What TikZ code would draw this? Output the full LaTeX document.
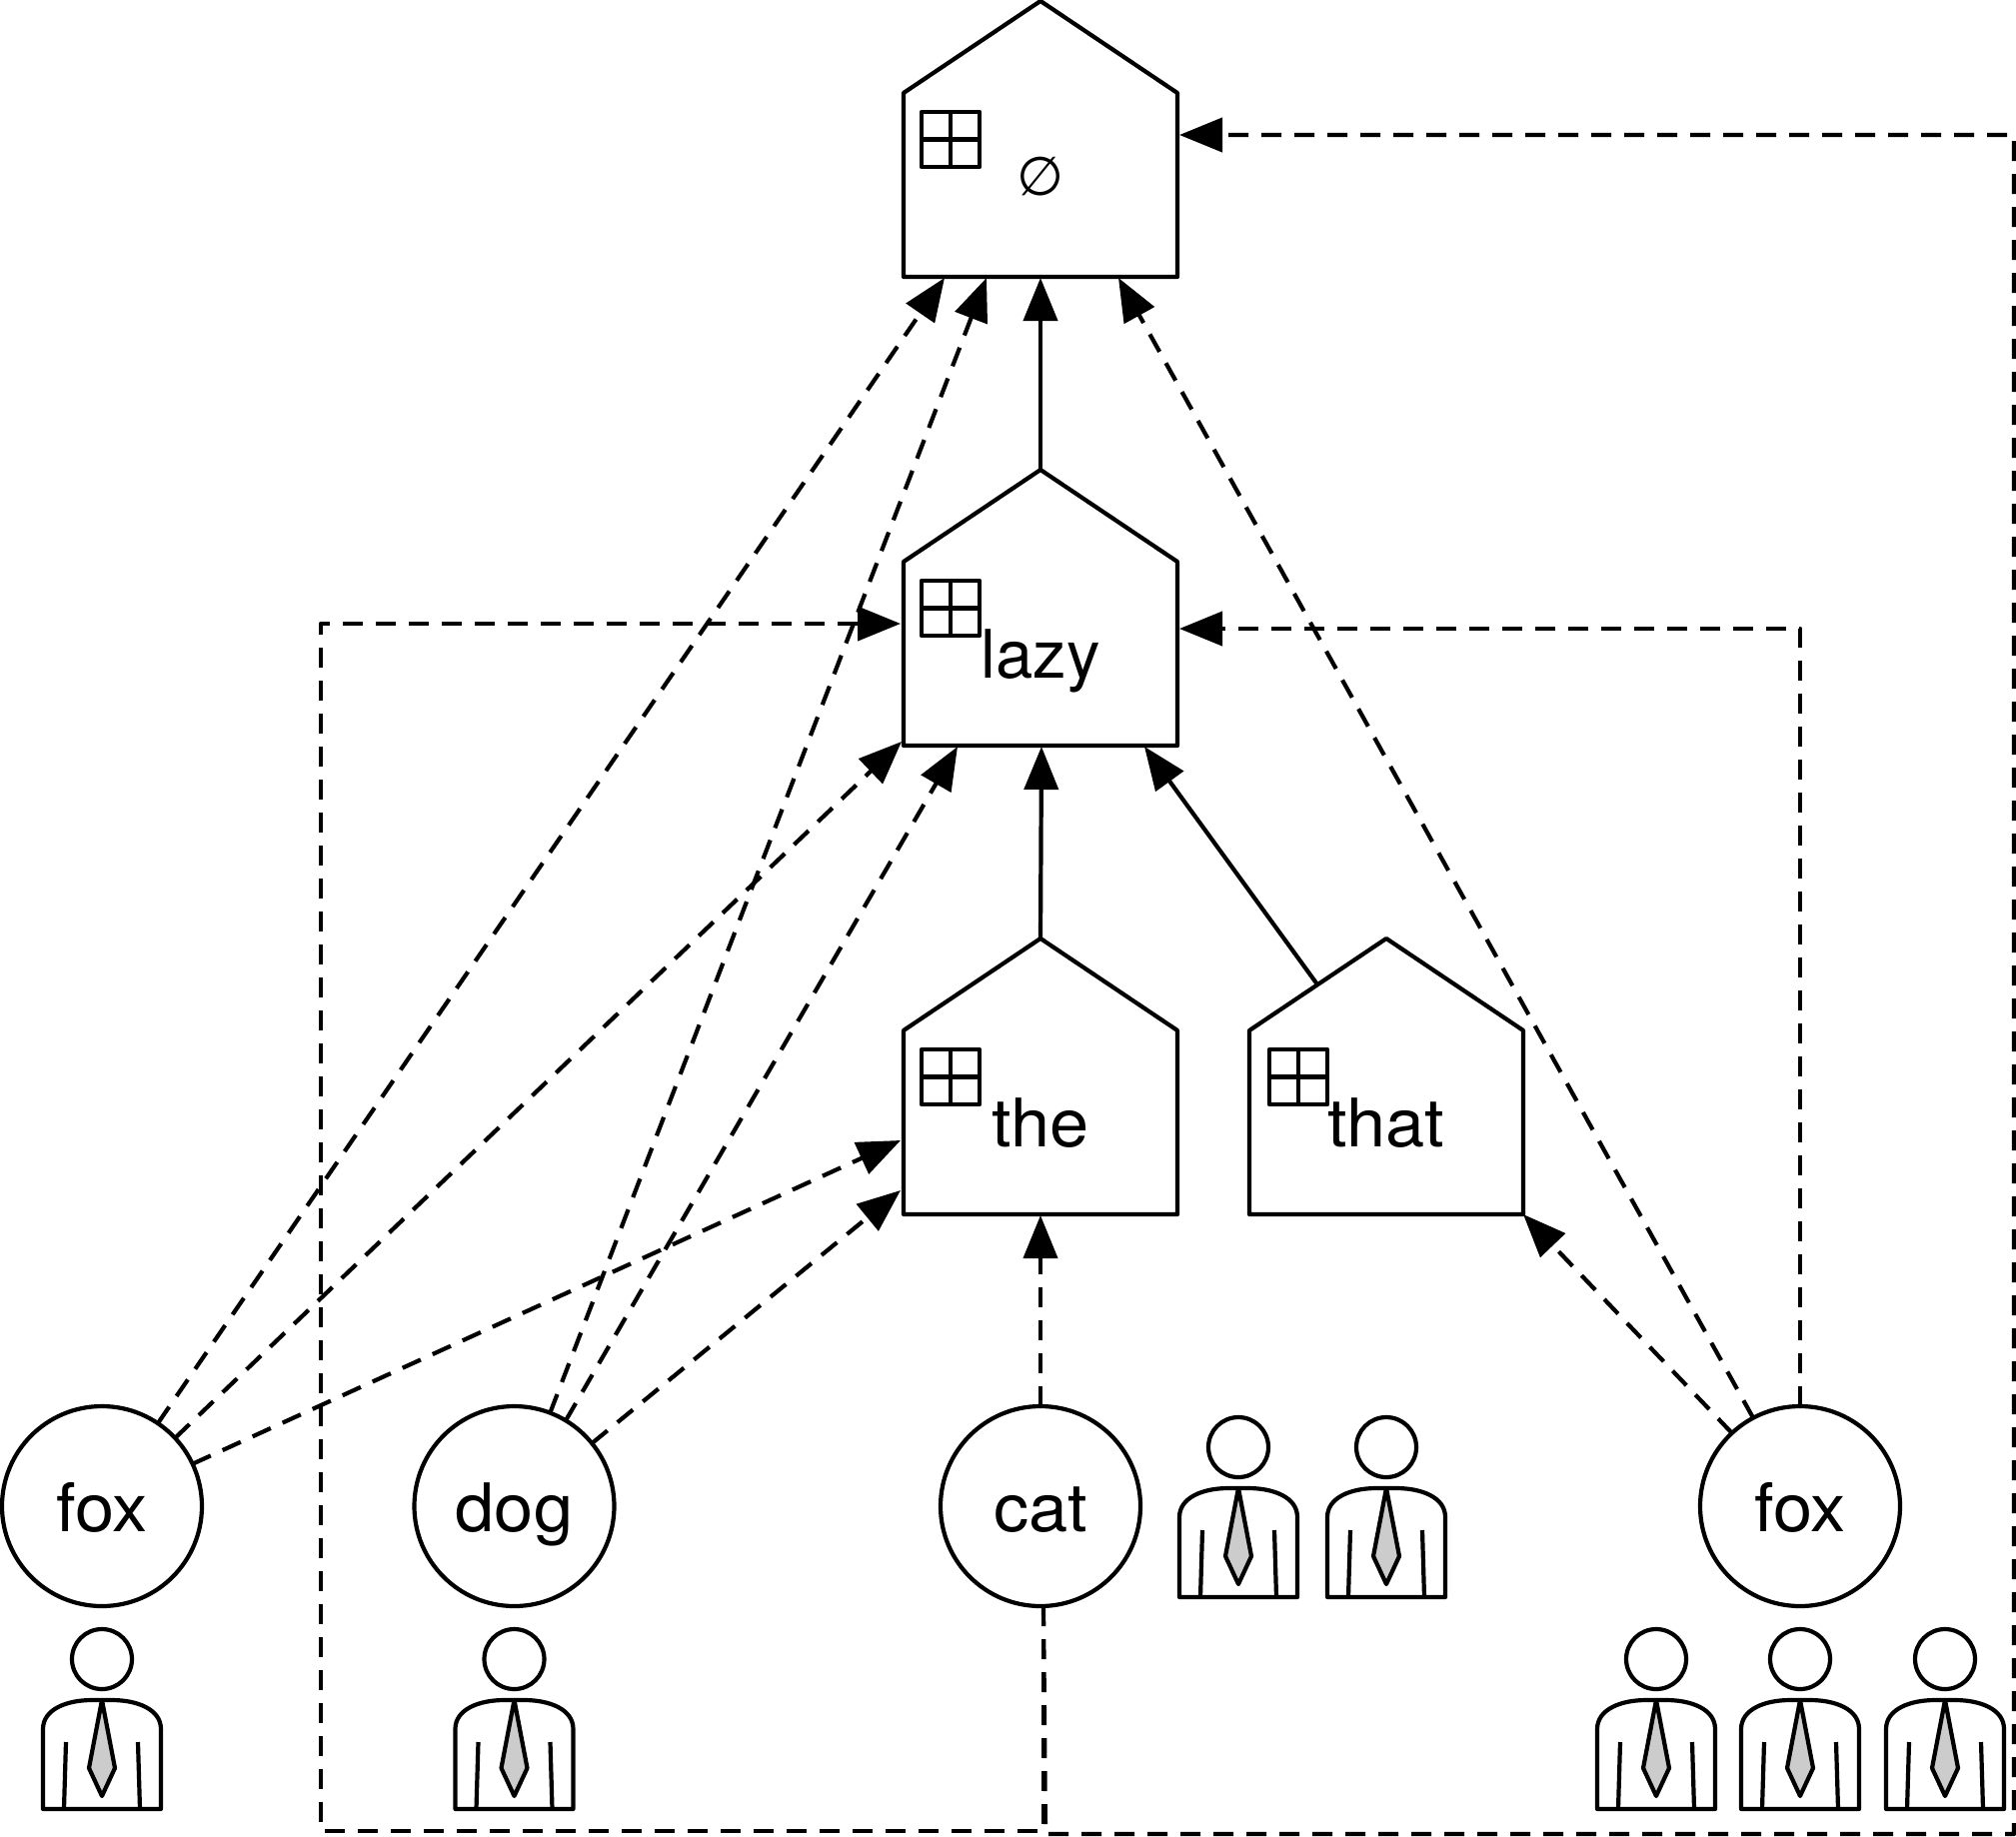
\documentclass[tikz,border=0pt]{standalone}
\usepackage{fontspec}
\setmainfont[FakeStretch=1.05]{TeX Gyre Heros}
\newfontfamily\plainfont{TeX Gyre Heros}
\newfontfamily\symfont{DejaVu Sans}
\usetikzlibrary{arrows.meta}
\tikzset{
  x=1pt,y=-1pt,
  every path/.style={line width=4.2pt,line join=round},
  tip/.style={-{Triangle[length=43pt,width=34pt]}},
  solidarrow/.style={draw,tip},
  dasharrow/.style={draw,tip,dash pattern=on 20pt off 13pt},
  housearea/.style={draw=none,rectangle,minimum width=274pt,minimum height=184pt,inner sep=0pt,outer sep=0pt},
  houselabel/.style={font=\fontsize{67}{70}\selectfont,inner sep=0pt,anchor=base},
  word/.style={draw,circle,minimum size=200pt,inner sep=0pt,outer sep=0pt,
     font=\fontsize{67}{70}\selectfont,text height=65pt,text depth=15pt},
  headshape/.style={draw,circle,minimum size=60pt,inner sep=0pt,outer sep=0pt},
}
\newcommand{\myhouse}[5]{% name, x, apex y, label, window x
  \begin{scope}[shift={(#2,#3)}]
    \draw (-137,92) -- (0,0) -- (137,92) -- (137,276) -- (-137,276) -- cycle;
    \draw (#5,111) rectangle ++(58,55);
    \draw (#5,138.5) -- ++(58,0);
    \draw ({#5+29},111) -- ++(0,55);
    \node[housearea] (#1) at (0,184) {};
    \coordinate (#1-apex) at (0,0);
    \coordinate (#1-roof) at (-69,46);
    \node[houselabel] (#1-label) at (0,208) {#4};
  \end{scope}}
\newcommand{\myperson}[3]{% name, x, head centre y
  \begin{scope}[shift={(#2,#3)}]
    \node[headshape] (#1) at (0,0) {};
    \draw (-59,150) -- (-59,70) .. controls (-59,50) and (-35,41) .. (-10,41) -- (10,41)
          .. controls (35,41) and (59,50) .. (59,70) -- (59,150) -- cycle;
    \draw[fill=black!20] (0,41) -- (-13,109) -- (0,137) -- (13,109) -- cycle;
    \draw (-36,83) -- (-38,150);
    \draw (36,83) -- (38,150);
  \end{scope}}
\begin{document}
\begin{tikzpicture}
\useasboundingbox (0,0) rectangle (2017,1837);
\myhouse{hA}{1041}{1}{}{-119}
\myhouse{hB}{1041}{470}{\plainfont lazy}{-119}
\myhouse{hC}{1041}{939}{the}{-119}
\myhouse{hD}{1387}{939}{that}{-117}
\node[inner sep=0pt,font=\symfont\fontsize{54}{58}\selectfont] (empty) at (1041,177) {∅};

\node[word] (fA) at (102,1507) {fox};
\node[word] (dg) at (514.5,1507) {dog};
\node[word] (ct) at (1041,1507) {cat};
\node[word] (fB) at (1801,1507) {fox};

\myperson{pA}{102}{1660}
\myperson{pB}{514.5}{1660}
\myperson{pC}{1239}{1448}
\myperson{pD}{1387}{1448}
\myperson{pE}{1657}{1660}
\myperson{pF}{1801}{1660}
\myperson{pG}{1946}{1660}

% solid
\path[solidarrow] (hB-apex) -- ([xshift=137pt,yshift=-1pt]hA.south west);
\path[solidarrow] (hC-apex) -- ([xshift=138pt,yshift=-1pt]hB.south west);
\path[solidarrow] (hD-roof) -- ([xshift=241pt,yshift=-1pt]hB.south west);

% dashed, to top house
\path[dasharrow] (fA.56.5) -- ([xshift=41pt,yshift=-1pt]hA.south west);
\path[dasharrow] (dg.69.3) -- ([xshift=83pt,yshift=-1pt]hA.south west);
\path[dasharrow] (fB.118.8) -- ([xshift=215pt,yshift=-1pt]hA.south west);
% dashed, to lazy
\path[dasharrow] (fA.43.4) -- ([xshift=-2pt,yshift=4pt]hB.south west);
\path[dasharrow] (dg.59.4) -- ([xshift=54pt,yshift=-1pt]hB.south west);
\coordinate (fBup) at (1801,629);
\path[dasharrow] (fB.north) -- (fBup) -- ([xshift=2pt,yshift=-67pt]hB.north east);
% dashed, to the
\path[dasharrow] (fA.25.3) -- ([xshift=-3pt,yshift=-110pt]hC.north west);
\path[dasharrow] (dg.39.7) -- ([xshift=-3pt,yshift=-160pt]hC.north west);
\path[dasharrow] (ct.north) -- ([xshift=137pt,yshift=-1pt]hC.south west);
% dashed, to that
\path[dasharrow] (fB.133.8) -- (hD.south east);
% long routes from cat
\coordinate (cA) at (1044,1832);
\coordinate (cB) at (321,1832);
\coordinate (cC) at (321,624);
\path[dasharrow] ([xshift=3pt]ct.south) -- (cA) -- (cB) -- (cC) -- ([xshift=-3pt,yshift=-62pt]hB.north west);
\coordinate (cD) at (1046,1835);
\coordinate (cE) at (2015,1835);
\coordinate (cF) at (2015,135);
\path[dasharrow] ([xshift=3pt]ct.south) -- (cD) -- (cE) -- (cF) -- ([xshift=2pt,yshift=-42pt]hA.north east);
\end{tikzpicture}
\end{document}
